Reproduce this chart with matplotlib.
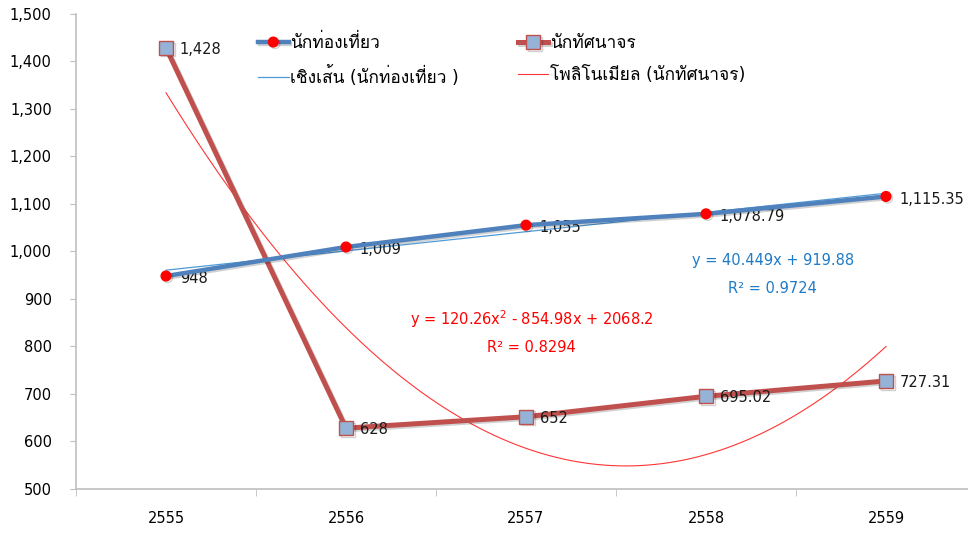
import numpy as np
import matplotlib
matplotlib.use('Agg')
import matplotlib.pyplot as plt
import matplotlib.patheffects as pe

years = ['2555', '2556', '2557', '2558', '2559']
tourists = [948, 1009, 1055, 1078.79, 1115.35]
excursionists = [1428, 628, 652, 695.02, 727.31]
tourist_labels = ['948', '1,009', '1,055', '1,078.79', '1,115.35']
excursionist_labels = ['1,428', '628', '652', '695.02', '727.31']
series_names = ['นักท่องเที่ยว', 'นักทัศนาจร']
trend_names = ['เชิงเส้น (นักท่องเที่ยว )', 'โพลิโนเมียล (นักทัศนาจร)']

# latin from DejaVu, thai glyphs fall back to Loma
plt.rcParams['font.family'] = ['DejaVu Sans', 'Loma']

x = np.arange(1, 6)
fig = plt.figure(figsize=(9.68, 5.33), dpi=100)
ax = fig.add_axes([76/968, 44/533, 900/968, 475.4/533])

shadow = [pe.SimpleLineShadow(offset=(1.2, -1.2), alpha=0.18), pe.Normal()]
h1, = ax.plot(x, tourists, color='#4F81BD', lw=3.2, marker='o', ms=7,
              mfc='#FF0000', mec='#FF0000', label=series_names[0], zorder=4,
              path_effects=shadow)
h2, = ax.plot(x, excursionists, color='#C0504D', lw=3.6, marker='s', ms=10,
              mfc='#95B3D7', mec='#C0504D', mew=1, label=series_names[1], zorder=3,
              path_effects=shadow)

# trendlines like excel
xs = np.linspace(1, 5, 200)
lin = np.polyfit(x, tourists, 1)
quad = np.polyfit(x, excursionists, 2)
h3, = ax.plot(xs, np.polyval(lin, xs), color='#4F9BD8', lw=0.9, label=trend_names[0], zorder=2)
h4, = ax.plot(xs, np.polyval(quad, xs), color='#FF3535', lw=0.8, label=trend_names[1], zorder=2)

for xi, v, t in zip(x, tourists, tourist_labels):
    ax.annotate(t, (xi, v), xytext=(10, -2), textcoords='offset points',
                va='center', ha='left', fontsize=10.5, color='#1a1a1a')
for xi, v, t in zip(x, excursionists, excursionist_labels):
    ax.annotate(t, (xi, v), xytext=(10, -1), textcoords='offset points',
                va='center', ha='left', fontsize=10.5, color='#1a1a1a')

ax.text(3.03, 858, 'y = 120.26x$^2$ - 854.98x + 2068.2', color='#FF0000',
        ha='center', va='center', fontsize=10.5)
ax.text(3.03, 797, 'R² = 0.8294', color='#FF0000', ha='center', va='center', fontsize=10.5)
ax.text(4.37, 980, 'y = 40.449x + 919.88', color='#1F7BC8', ha='center', va='center', fontsize=10.5)
ax.text(4.37, 921, 'R² = 0.9724', color='#1F7BC8', ha='center', va='center', fontsize=10.5)

ax.set_xlim(0.5, 5.5)
ax.set_ylim(500, 1500)
ax.set_yticks(np.arange(500, 1501, 100))
ax.set_yticklabels([f'{v:,}' for v in range(500, 1501, 100)])
ax.set_xticks(x)
ax.set_xticklabels(years)
ax.set_xticks(np.arange(0.5, 6, 1), minor=True)
ax.tick_params(axis='x', which='major', length=0, pad=16, labelsize=10.5)
ax.tick_params(axis='x', which='minor', length=5, color='#BFBFBF')
ax.tick_params(axis='y', length=4.5, color='#BFBFBF', labelsize=10.5, pad=13)
for s in ['top', 'right']:
    ax.spines[s].set_visible(False)
for s in ['left', 'bottom']:
    ax.spines[s].set_color('#BFBFBF')
    ax.spines[s].set_linewidth(1.2)

ax.legend([h1, h3, h2, h4], [series_names[0], trend_names[0], series_names[1], trend_names[1]],
          ncol=2, frameon=False, loc='upper left', bbox_to_anchor=(0.185, 0.99),
          fontsize=12.5, handlelength=1.75, columnspacing=3.4, handletextpad=0.1,
          labelspacing=0.8)

fig.savefig('out.png', dpi=100)
